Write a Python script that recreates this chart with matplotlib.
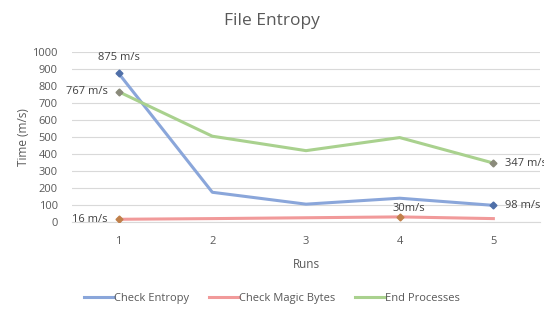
import matplotlib.pyplot as plt

runs = [1, 2, 3, 4, 5]
check_entropy = [875, 175, 105, 140, 98]
check_magic = [16, 20, 25, 30, 20]
end_processes = [767, 505, 420, 497, 347]

plt.rcParams['font.family'] = ['Open Sans', 'DejaVu Sans']
gray = '#595959'

fig = plt.figure(figsize=(5.44, 3.14), dpi=100)
ax = fig.add_axes([0.132, 0.293, 0.861, 0.541])

c_blue = '#8aa6da'
c_red = '#f19a9a'
c_green = '#a9d18e'

ax.plot(runs, check_entropy, color=c_blue, lw=2.2, label='Check Entropy', zorder=3)
ax.plot(runs, check_magic, color=c_red, lw=2.2, label='Check Magic Bytes', zorder=3)
ax.plot(runs, end_processes, color=c_green, lw=2.2, label='End Processes', zorder=3)

# marked points
ax.plot([runs[0], runs[4]], [check_entropy[0], check_entropy[4]], 'D', color='#4f6fa8', ms=3.5, zorder=4)
ax.plot([runs[0], runs[3]], [check_magic[0], check_magic[3]], 'D', color='#c0804a', ms=3.5, zorder=4)
ax.plot([runs[0], runs[4]], [end_processes[0], end_processes[4]], 'D', color='#8a8a7a', ms=3.5, zorder=4)

fs = 8
tc = '#404040'
ax.text(1, check_entropy[0] + 60, '875 m/s', ha='center', va='bottom', fontsize=fs, color=tc)
ax.text(0.88, end_processes[0], '767 m/s', ha='right', va='center', fontsize=fs, color=tc)
ax.text(0.88, check_magic[0], '16 m/s', ha='right', va='center', fontsize=fs, color=tc)
ax.text(4.1, check_magic[3] + 15, '30m/s', ha='center', va='bottom', fontsize=fs, color=tc)
ax.text(5.12, check_entropy[4], '98 m/s', ha='left', va='center', fontsize=fs, color=tc)
ax.text(5.12, end_processes[4], '347 m/s', ha='left', va='center', fontsize=fs, color=tc, clip_on=False)

ax.set_xlim(0.5, 5.5)
ax.set_ylim(0, 1000)
ax.set_yticks(range(0, 1001, 100))
ax.set_xticks(runs)
ax.grid(axis='y', color='#d9d9d9', lw=0.8)
ax.set_axisbelow(True)
for s in ['top', 'right', 'left']:
    ax.spines[s].set_visible(False)
ax.spines['bottom'].set_color('#d9d9d9')
ax.tick_params(length=0, labelsize=8, colors=gray)
ax.tick_params(axis='y', pad=10)
ax.tick_params(axis='x', pad=10)

ax.set_xlabel('Runs', fontsize=8.5, color=gray, labelpad=8)
ax.set_ylabel('Time (m/s)', fontsize=8.5, color=gray, labelpad=2)
fig.suptitle('File Entropy', fontsize=12.5, color=gray, y=0.96)

fig.legend(loc='lower center', bbox_to_anchor=(0.5, 0.0), ncol=3, frameon=False,
           fontsize=8, labelcolor=gray, handlelength=2.7, handletextpad=0.0, columnspacing=1.8)

plt.savefig('out.png', dpi=100)
